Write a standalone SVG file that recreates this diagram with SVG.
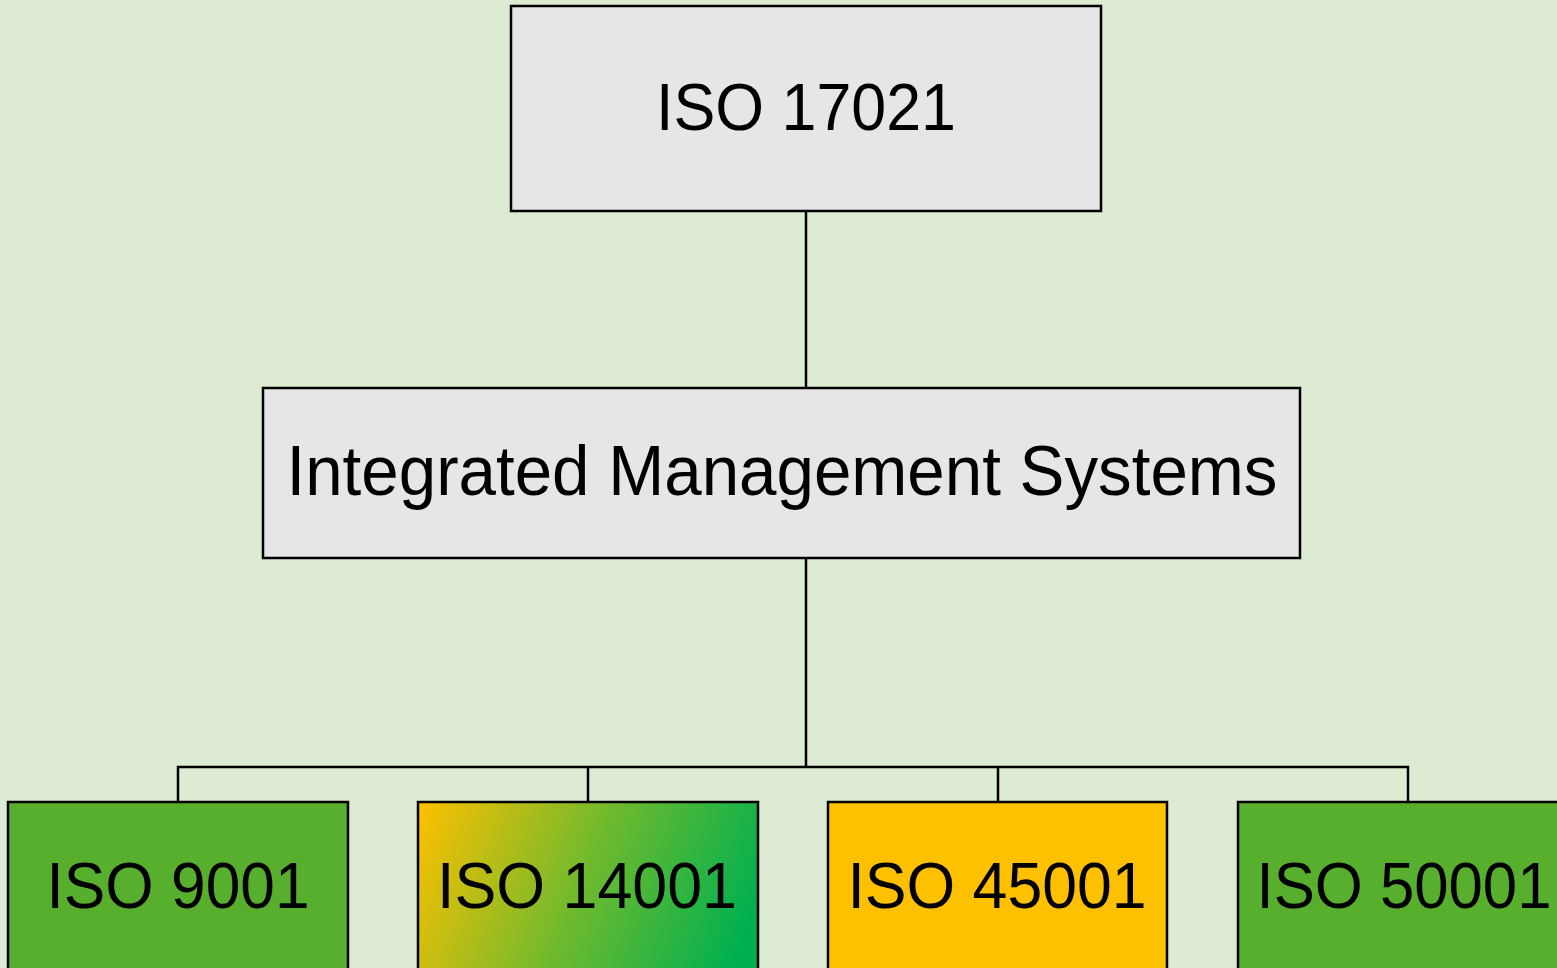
<svg xmlns="http://www.w3.org/2000/svg" width="1557" height="968" viewBox="0 0 1557 968">
<defs>
<linearGradient id="g14" x1="418" y1="802" x2="745" y2="935" gradientUnits="userSpaceOnUse">
<stop offset="0" stop-color="#FFC000"/>
<stop offset="0.5" stop-color="#74BA2C"/>
<stop offset="1" stop-color="#00B050"/>
</linearGradient>
<style>
.box{stroke:#000;stroke-width:2.5}
.gray{fill:#E6E6E6}
.t{font-family:"Liberation Sans",Arial,sans-serif;fill:#000;text-anchor:middle}
.c{stroke:#000;stroke-width:2.5;fill:none}
</style>
</defs>
<rect width="1557" height="968" fill="#DCEBD2"/>
<g id="connectors">
<line class="c" x1="806" y1="211" x2="806" y2="388"/>
<line class="c" x1="806" y1="558" x2="806" y2="767"/>
<polyline class="c" points="178,802 178,767 1408,767 1408,802"/>
<line class="c" x1="588" y1="767" x2="588" y2="802"/>
<line class="c" x1="998" y1="767" x2="998" y2="802"/>
</g>
<g id="iso17021">
<rect class="box gray" x="511" y="6" width="590" height="205"/>
<text class="t" x="806" y="130" font-size="67" textLength="300" lengthAdjust="spacingAndGlyphs">ISO 17021</text>
</g>
<g id="ims">
<rect class="box gray" x="263" y="388" width="1037" height="170"/>
<text class="t" x="782" y="495" font-size="70" textLength="991" lengthAdjust="spacingAndGlyphs">Integrated Management Systems</text>
</g>
<g id="iso9001">
<rect class="box" fill="#58AE2D" x="8" y="802" width="340" height="180"/>
<text class="t" x="178" y="908" font-size="64" textLength="263" lengthAdjust="spacingAndGlyphs">ISO 9001</text>
</g>
<g id="iso14001">
<rect class="box" fill="url(#g14)" x="418" y="802" width="340" height="180"/>
<text class="t" x="587" y="908" font-size="64" textLength="300" lengthAdjust="spacingAndGlyphs">ISO 14001</text>
</g>
<g id="iso45001">
<rect class="box" fill="#FFC000" x="828" y="802" width="339" height="180"/>
<text class="t" x="997" y="908" font-size="64" textLength="299" lengthAdjust="spacingAndGlyphs">ISO 45001</text>
</g>
<g id="iso50001">
<rect class="box" fill="#58AE2D" x="1238" y="802" width="340" height="180"/>
<text class="t" x="1404" y="908" font-size="64" textLength="295" lengthAdjust="spacingAndGlyphs">ISO 50001</text>
</g>
</svg>
